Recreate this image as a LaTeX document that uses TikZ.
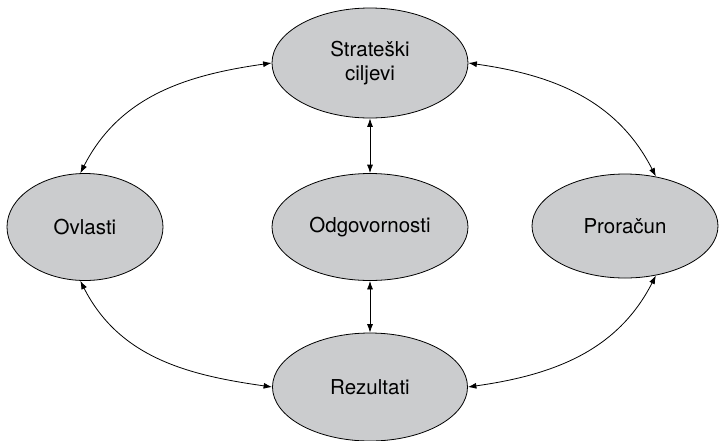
\documentclass[tikz,border=0pt]{standalone}
\usepackage{fontspec}
\setmainfont{TeX Gyre Heros}
\usetikzlibrary{shapes.geometric,arrows.meta}
\definecolor{ellgray}{HTML}{CBCCCE}
\tikzset{
  goal/.style={ellipse, draw=black, line width=0.8pt, fill=ellgray, inner sep=0pt,
    align=center, font=\fontsize{20.5}{24}\selectfont},
  link/.style={line width=0.8pt, {Latex[length=8.5pt,width=6pt]}-{Latex[length=8.5pt,width=6pt]}}
}
\begin{document}
\begin{tikzpicture}[x=1pt,y=-1pt]
\useasboundingbox (0,0) rectangle (719,440);
\node[goal, minimum width=196pt, minimum height=110pt] (top) at (370,63) {\raisebox{-3pt}{\parbox{120pt}{\centering Strateški\\ciljevi}}};
\node[goal, minimum width=156pt, minimum height=107pt] (ov) at (85,227) {Ovlasti};
\node[goal, minimum width=196pt, minimum height=107pt] (odg) at (370,227) {Odgovornosti};
\node[goal, minimum width=186pt, minimum height=104pt] (pr) at (625,226) {Proračun};
\node[goal, minimum width=195pt, minimum height=108pt] (rez) at (370,387) {Rezultati};
\draw[link] (top.south) -- (odg.north);
\draw[link] (odg.south) -- (rez.north);
\draw[link] (top.west) to[out=188,in=63] (ov.95);
\draw[link] (top.east) to[out=-8,in=117] (pr.58);
\draw[link] (ov.265) to[out=-63,in=172] (rez.west);
\draw[link] (pr.302) to[out=-117,in=8] (rez.east);
\end{tikzpicture}
\end{document}
